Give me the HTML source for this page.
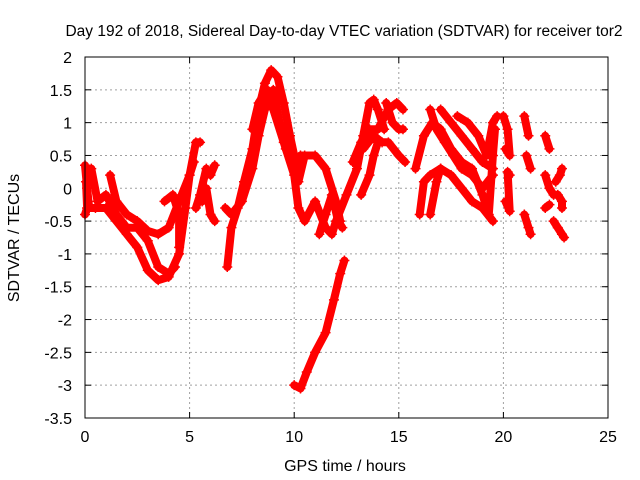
<!DOCTYPE html>
<html><head><meta charset="utf-8"><style>
html,body{margin:0;padding:0;background:#fff;}
svg{display:block;font-family:"Liberation Sans",sans-serif;}
</style></head><body>
<svg id="chart" width="640" height="480" viewBox="0 0 640 480">
<rect width="640" height="480" fill="#fff"/>
<text x="344" y="36" font-size="15.5" text-anchor="middle" fill="#000">Day 192 of 2018, Sidereal Day-to-day VTEC variation (SDTVAR) for receiver tor2</text>
<g id="grid"></g>
<g id="ticks"></g>
<g id="marks"></g>
<rect x="85" y="57" width="523" height="361" fill="none" stroke="#000" stroke-width="1"/>
<text x="345" y="471" font-size="16" text-anchor="middle">GPS time / hours</text>
<text x="19" y="238" font-size="16" text-anchor="middle" transform="rotate(-90 19 238)">SDTVAR / TECUs</text>
</svg>
<script>
const xTicks = [0, 5, 10, 15, 20, 25];
const yTicks = [2, 1.5, 1, 0.5, 0, -0.5, -1, -1.5, -2, -2.5, -3, -3.5];
const arcs = [
 [[0,0.35],[0.1,0],[0.2,-0.3],[0.5,-0.3],[1,-0.3],[1.5,-0.5],[2,-0.7],[2.5,-0.9],[3,-1.25],[3.5,-1.4],[4,-1.35],[4.5,-1.0],[4.8,-0.3],[5,0.2],[5.3,0.7],[5.5,0.7]],
 [[1.2,0.2],[1.5,-0.2],[2,-0.4],[2.5,-0.5],[3,-0.65],[3.5,-0.7],[4,-0.6],[4.5,-0.2],[5,0.2],[5.2,0.4]],
 [[0.3,0.3],[0.6,-0.2],[1,-0.1],[1.5,-0.4],[2,-0.6],[2.5,-0.6],[3,-0.8],[3.5,-1.2],[4,-1.3],[4.3,-1.2]],
 [[3.8,-0.2],[4.2,-0.1],[4.5,-0.4],[4.5,-0.9]],
 [[0,-0.4],[0.1,-0.3],[0.05,0.1]],
 [[5.3,-0.3],[5.5,-0.1],[5.8,0.3],[6,0.2],[6.2,0.35]],
 [[5.6,-0.2],[5.8,0],[6,-0.4],[6.2,-0.5]],
 [[6.8,-1.2],[7,-0.6],[7.3,-0.3],[7.6,0.1],[8,0.6],[8.3,1.2],[8.6,1.6],[8.9,1.8],[9.2,1.7],[9.5,1.3],[9.8,0.8],[10,0.5],[10.2,0.1],[10.5,0.5]],
 [[6.7,-0.3],[7,-0.4],[7.5,-0.2],[8,0.3],[8.3,0.8],[8.6,1.2],[9,1.5],[9.3,1.0],[9.6,0.6],[10,0.3],[10.3,0.5],[11,0.5],[11.5,0.3],[12,-0.2],[12.2,-0.5]],
 [[8,0.9],[8.3,1.3],[8.7,1.5],[9,1.2],[9.5,0.7],[10,0.2],[10.2,-0.3],[10.5,-0.5],[11,-0.2],[11.5,-0.6],[11.8,-0.7],[12,-0.5],[12.5,-0.1],[13,0.3],[13.3,0.8],[13.6,1.3],[13.8,1.35],[14,1.2],[14.3,0.9]],
 [[11.2,-0.7],[11.5,-0.4],[11.8,-0.1],[12.1,-0.5],[12.3,-0.6]],
 [[10,-3],[10.3,-3.05],[10.6,-2.8],[11,-2.5],[11.5,-2.2],[11.9,-1.7],[12.2,-1.3],[12.4,-1.1]],
 [[12.8,0.4],[13.2,0.7],[13.6,0.9],[14,0.9],[14.5,1.2],[14.9,1.3],[15.2,1.2]],
 [[13.3,0.6],[13.8,0.8],[14.2,0.7],[14.5,0.7],[15,0.5],[15.3,0.4]],
 [[13.2,-0.1],[13.6,0.2],[13.8,0.5],[14,0.7]],
 [[14.4,1.3],[14.7,1.0],[15,0.9],[15.2,0.9]],
 [[16,-0.4],[16.2,0.1],[16.5,0.2],[17,0.3],[17.5,0.2],[18,0],[18.5,-0.2],[19,-0.3],[19.5,-0.5]],
 [[16.5,1.2],[16.8,0.9],[17.2,0.7],[17.6,0.5],[18,0.3],[18.5,0.2],[19,0],[19.5,0.2]],
 [[17,1.2],[17.5,1.0],[18,0.8],[18.5,0.6],[19,0.4],[19.5,0.3]],
 [[15.8,0.3],[16.2,0.8],[16.6,1.0],[17,0.9],[17.5,0.6],[18,0.4],[18.5,0.3],[19,-0.1],[19.3,-0.4],[19.5,0.5],[19.6,0.9]],
 [[17.8,1.1],[18.3,1.0],[18.8,0.8],[19.2,0.5],[19.5,1.0],[19.7,1.1]],
 [[16.5,-0.4],[16.8,0.1],[17,0.3]],
 [[20,1.1],[20.2,0.9],[20.3,0.5],[20.1,0.6]],
 [[20.1,-0.2],[20.3,-0.35],[20.2,0.25],[20.3,0.2]],
 [[21,1.1],[21.2,0.8]],
 [[21.1,0.5],[21.3,0.3]],
 [[21,-0.4],[21.2,-0.6],[21.3,-0.7]],
 [[22,0.8],[22.2,0.6]],
 [[22,-0.3],[22.2,-0.25]],
 [[22.0,0.2],[22.2,0],[22.4,-0.1],[22.6,-0.1],[22.8,-0.2],[22.8,-0.3]],
 [[22.4,-0.5],[22.6,-0.6],[22.8,-0.7],[22.9,-0.75]],
 [[22.5,0.1],[22.7,0.2],[22.8,0.3]]
];
const NS='http://www.w3.org/2000/svg';
const X0=85,X1=608,Y0=57,Y1=418;
function xs(v){return X0+(v-0)/(25-0)*(X1-X0);}
function ys(v){return Y1-(v-(-3.5))/(2-(-3.5))*(Y1-Y0);}
const grid=document.getElementById('grid'),ticks=document.getElementById('ticks'),marks=document.getElementById('marks');
function mk(tag,attrs,parent){const e=document.createElementNS(NS,tag);for(const k in attrs)e.setAttribute(k,attrs[k]);parent.appendChild(e);return e;}
xTicks.forEach(t=>{
 const x=xs(t);
 if(t>0&&t<25){const g=mk('line',{x1:x,x2:x,y1:Y0,y2:Y1,stroke:'#a0a0a0','stroke-dasharray':'2,3','stroke-width':1},grid);
 
 }
 mk('line',{x1:x,x2:x,y1:Y1,y2:Y1-6,stroke:'#000'},ticks);
 mk('line',{x1:x,x2:x,y1:Y0,y2:Y0+6,stroke:'#000'},ticks);
 const tx=mk('text',{x:x,y:Y1+24,'font-size':16,'text-anchor':'middle'},ticks);tx.textContent=t;
 
 
});
yTicks.forEach(t=>{
 const y=ys(t);
 if(t<2&&t>-3.5){const g=mk('line',{x1:X0,x2:X1,y1:y,y2:y,stroke:'#a0a0a0','stroke-dasharray':'2,3','stroke-width':1},grid);
 
 }
 mk('line',{x1:X0,x2:X0+6,y1:y,y2:y,stroke:'#000'},ticks);
 mk('line',{x1:X1,x2:X1-6,y1:y,y2:y,stroke:'#000'},ticks);
 const tx=mk('text',{x:X0-13,y:y+6,'font-size':16,'text-anchor':'end'},ticks);tx.textContent=t;
 
 
});
arcs.forEach((arc,i)=>{
 const d=arc.map((p,j)=>(j?'L':'M')+xs(p[0]).toFixed(1)+','+ys(p[1]).toFixed(1)).join(' ');
 const path=mk('path',{d:d,fill:'none',stroke:'#ff0000','stroke-width':8,'stroke-linejoin':'round','stroke-linecap':'round'},marks);
 
 
 arc.forEach(p=>{
  const x=xs(p[0]),y=ys(p[1]);
  const pl=mk('path',{d:`M${x-5},${y}h10M${x},${y-5}v10`,stroke:'#ff0000','stroke-width':1.5},marks);
  
  
 });
});
</script>
</body></html>
